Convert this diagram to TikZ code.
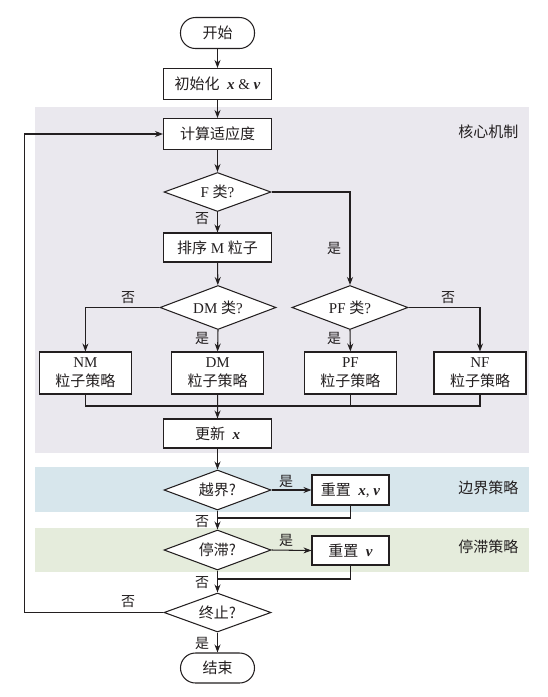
\documentclass[tikz,border=0pt]{standalone}
\usepackage{fontspec}
\setmainfont{Liberation Serif}
\newfontfamily\cjk{Noto Sans CJK SC}
\usetikzlibrary{shapes.geometric,arrows.meta}
\definecolor{linec}{HTML}{231F20}
\definecolor{coreg}{HTML}{EAE8EE}
\definecolor{boundb}{HTML}{D7E6EC}
\definecolor{stagg}{HTML}{E5ECDC}
\newcommand{\bx}{\textbf{\textit{x}}}
\newcommand{\bv}{\textbf{\textit{v}}}
\begin{document}
\begin{tikzpicture}[x=1pt,y=-1pt,
  every node/.style={font=\fontsize{15}{18}\selectfont, text=linec},
  proc/.style={draw=linec, line width=1.05pt, fill=white, rectangle, inner sep=2pt, minimum width=108pt, minimum height=31pt},
  sbox/.style={draw=linec, line width=1.05pt, fill=white, rectangle, inner sep=2pt, minimum width=92pt, minimum height=42pt, align=center, font=\fontsize{15}{19}\selectfont},
  rbox/.style={draw=linec, line width=1.05pt, fill=white, rectangle, inner sep=2pt, minimum width=77pt, minimum height=30pt},
  term/.style={draw=linec, line width=1.05pt, fill=white, rectangle, rounded corners=15pt, minimum width=74pt, minimum height=31pt},
  dec/.style={draw=linec, line width=1.05pt, fill=white, diamond, aspect=2.8, inner sep=0pt, minimum width=107pt, minimum height=39pt},
  bigdec/.style={dec, minimum width=116pt, minimum height=44pt},
  lbl/.style={font=\fontsize{14}{16}\selectfont\cjk},
  reg/.style={font=\fontsize{15}{18}\selectfont\cjk, anchor=east},
  conn/.style={draw=linec, line width=1.05pt},
  arr/.style={conn, -{Stealth[length=8pt,width=6pt]}}
]
\useasboundingbox (0,0) rectangle (547,697);
% regions
\fill[coreg] (35,107) rectangle (529,452.7);
\fill[boundb] (35,467) rectangle (529,512);
\fill[stagg] (35,528) rectangle (529,572);
\node[reg] (rcore) at (522,132) {核心机制};
\node[reg] (rbound) at (522,488) {边界策略};
\node[reg] (rstag) at (522,547) {停滞策略};
% nodes
\node[term] (start) at (217.5,33) {\cjk 开始};
\node[proc] (init) at (217.5,84) {{\cjk 初始化} \ \bx\ \& \bv};
\node[proc] (calc) at (217.5,134) {\cjk 计算适应度};
\node[dec] (F) at (217.5,192) {F {\cjk 类}?};
\node[proc, minimum height=29pt] (sort) at (217.5,247.5) {{\cjk 排序} M {\cjk 粒子}};
\node[bigdec] (DM) at (218,307.5) {DM {\cjk 类}?};
\node[bigdec] (PF) at (350,307.5) {PF {\cjk 类}?};
\node[sbox] (NMb) at (85.4,373) {NM\\{\cjk 粒子策略}};
\node[sbox] (DMb) at (217.6,373) {DM\\{\cjk 粒子策略}};
\node[sbox] (PFb) at (350.4,373) {PF\\{\cjk 粒子策略}};
\node[sbox] (NFb) at (480,373) {NF\\{\cjk 粒子策略}};
\node[proc, minimum height=29pt] (upd) at (217.5,433.5) {{\cjk 更新} \ \bx};
\node[dec, minimum height=40pt] (out) at (217.5,490) {\cjk 越界?};
\node[rbox] (rxv) at (350.5,490) {{\cjk 重置} \ \bx, \bv};
\node[dec, minimum height=40pt] (stag) at (217.5,550) {\cjk 停滞?};
\node[rbox, minimum height=29pt] (rv) at (350.5,550.5) {{\cjk 重置} \ \bv};
\node[dec] (term) at (217.5,612.5) {\cjk 终止?};
\node[term, minimum height=30pt] (stop) at (217.5,668) {\cjk 结束};
% connectors
\draw[arr] (start) -- (init);
\draw[arr] (init) -- (calc);
\draw[arr] (calc) -- (F);
\draw[arr] (F) -- (sort);
\node[lbl] (lF0) at (202,219) {否};
\draw[arr] (F.east) -| (PF.north);
\node[lbl] (lF1) at (334,248) {是};
\draw[arr] (sort) -- (DM);
\draw[arr] (DM.west) -| (NMb.north);
\node[lbl] (lDM0) at (128,298) {否};
\draw[arr] (DM.south) -- (DMb.north);
\node[lbl] (lDM1) at (202,338) {是};
\draw[arr] (PF.south) -- (PFb.north);
\node[lbl] (lPF1) at (334,338) {是};
\draw[arr] (PF.east) -| (NFb.north);
\node[lbl] (lPF0) at (448,298) {否};
\coordinate (merge) at (217.6,406);
\draw[conn] (NMb.south) |- (merge) -| (NFb.south);
\draw[conn] (PFb.south) -- (PFb.south |- merge);
\draw[arr] (DMb.south) -- (upd.north);
\draw[arr] (upd) -- (out);
\draw[arr] (out.east) -- (rxv.west);
\node[lbl] (lout1) at (286,481) {是};
\coordinate (j1) at (217.5,518);
\draw[conn] (rxv.south) |- (j1);
\draw[arr] (out.south) -- (stag.north);
\node[lbl] (lout0) at (202,522) {否};
\draw[arr] (stag.east) -- (rv.west);
\node[lbl] (lstag1) at (286,540) {是};
\coordinate (j2) at (217.5,579);
\draw[conn] (rv.south) |- (j2);
\draw[arr] (stag.south) -- (term.north);
\node[lbl] (lstag0) at (202,583) {否};
\coordinate (loop) at (24.5,612.5);
\draw[arr] (term.west) -- (loop) |- (calc.west);
\node[lbl] (lterm0) at (128,602) {否};
\draw[arr] (term.south) -- (stop.north);
\node[lbl] (lterm1) at (202,643) {是};
\end{tikzpicture}
\end{document}
